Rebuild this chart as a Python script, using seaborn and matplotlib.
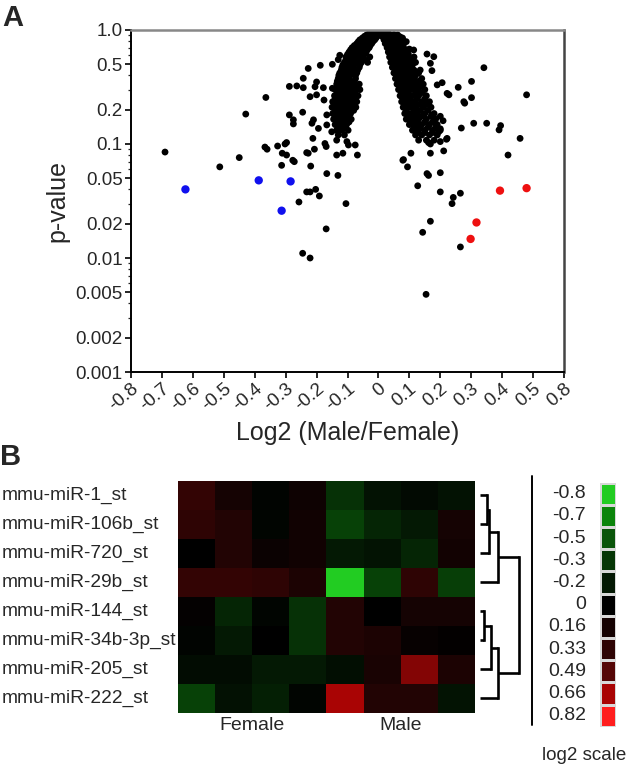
import numpy as np
import pandas as pd
import matplotlib
matplotlib.use("Agg")
import matplotlib.pyplot as plt
import seaborn as sns
from matplotlib.colors import LinearSegmentedColormap
from matplotlib.ticker import FixedLocator, FixedFormatter, LogLocator, NullFormatter
from matplotlib.lines import Line2D

# ===============================
# Panel A: volcano (log2 Male/Female, p-value)
# ===============================
core_left = [
    (-0.015, 0.97), (-0.005, 0.97),
    (-0.022, 0.95), (-0.01, 0.95), (0.0, 0.95),
    (-0.03, 0.93), (-0.018, 0.93), (-0.006, 0.93),
    (-0.038, 0.905), (-0.024, 0.905), (-0.01, 0.905),
    (-0.045, 0.88), (-0.03, 0.88), (-0.015, 0.88), (-0.004, 0.88),
    (-0.052, 0.85), (-0.038, 0.85), (-0.022, 0.85), (-0.008, 0.85),
    (-0.06, 0.82), (-0.045, 0.82), (-0.03, 0.82), (-0.012, 0.82),
    (-0.065, 0.79), (-0.05, 0.79), (-0.035, 0.79), (-0.018, 0.79),
    (-0.07, 0.76), (-0.055, 0.76), (-0.04, 0.76), (-0.022, 0.76),
    (-0.078, 0.73), (-0.062, 0.73), (-0.045, 0.73), (-0.027, 0.73),
    (-0.085, 0.70), (-0.068, 0.70), (-0.05, 0.70), (-0.03, 0.70),
    (-0.09, 0.67), (-0.072, 0.67), (-0.055, 0.67), (-0.036, 0.67),
    (-0.095, 0.64), (-0.078, 0.64), (-0.06, 0.64), (-0.04, 0.64),
    (-0.1, 0.61), (-0.083, 0.61), (-0.065, 0.61), (-0.046, 0.61),
    (-0.125, 0.60), (-0.105, 0.58), (-0.088, 0.58), (-0.07, 0.58), (-0.05, 0.58), (-0.028, 0.58),
    (-0.13, 0.55), (-0.105, 0.55), (-0.085, 0.55), (-0.065, 0.55), (-0.045, 0.55),
    (-0.11, 0.52), (-0.095, 0.52), (-0.075, 0.52), (-0.055, 0.52), (-0.035, 0.52),
    (-0.115, 0.495), (-0.098, 0.495), (-0.08, 0.495), (-0.06, 0.495),
    (-0.118, 0.47), (-0.1, 0.47), (-0.082, 0.47), (-0.062, 0.47),
    (-0.12, 0.445), (-0.103, 0.445), (-0.085, 0.445), (-0.067, 0.445),
    (-0.125, 0.42), (-0.105, 0.42), (-0.088, 0.42), (-0.07, 0.42),
    (-0.128, 0.40), (-0.11, 0.40), (-0.092, 0.40), (-0.074, 0.40),
    (-0.13, 0.375), (-0.112, 0.375), (-0.094, 0.375), (-0.074, 0.375),
    (-0.133, 0.355), (-0.115, 0.355), (-0.097, 0.355), (-0.078, 0.355),
    (-0.135, 0.335), (-0.118, 0.335), (-0.1, 0.335), (-0.08, 0.335), (-0.062, 0.335),
    (-0.13, 0.318), (-0.11, 0.318), (-0.09, 0.318), (-0.07, 0.318),
    (-0.14, 0.30), (-0.12, 0.30), (-0.1, 0.30), (-0.08, 0.30), (-0.06, 0.30),
    (-0.133, 0.282), (-0.115, 0.282), (-0.095, 0.282), (-0.075, 0.282),
    (-0.142, 0.265), (-0.125, 0.265), (-0.105, 0.265), (-0.085, 0.265), (-0.066, 0.265),
    (-0.14, 0.25), (-0.12, 0.25), (-0.1, 0.25), (-0.08, 0.25),
    (-0.148, 0.235), (-0.13, 0.235), (-0.11, 0.235), (-0.09, 0.235), (-0.07, 0.235),
    (-0.14, 0.222), (-0.122, 0.222), (-0.102, 0.222), (-0.082, 0.222),
    (-0.15, 0.21), (-0.13, 0.21), (-0.112, 0.21), (-0.092, 0.21), (-0.073, 0.21),
    (-0.14, 0.197), (-0.12, 0.197), (-0.1, 0.197), (-0.08, 0.197),
    (-0.148, 0.185), (-0.13, 0.185), (-0.11, 0.185), (-0.09, 0.185),
    (-0.137, 0.175), (-0.118, 0.175), (-0.098, 0.175),
    (-0.145, 0.165), (-0.128, 0.165), (-0.108, 0.165), (-0.088, 0.165),
    (-0.132, 0.156), (-0.113, 0.156), (-0.095, 0.156),
    (-0.14, 0.148), (-0.122, 0.148), (-0.103, 0.148),
    (-0.13, 0.14), (-0.112, 0.14),
    (-0.135, 0.132), (-0.118, 0.132), (-0.098, 0.132),
    (-0.13, 0.12), (-0.11, 0.12),
]
core_right = [
    (0.005, 0.97), (0.015, 0.97),
    (0.0, 0.95), (0.01, 0.95), (0.022, 0.95),
    (0.008, 0.93), (0.02, 0.93), (0.032, 0.93), (0.05, 0.91),
    (0.014, 0.905), (0.026, 0.905), (0.04, 0.905), (0.062, 0.905),
    (0.012, 0.88), (0.026, 0.88), (0.04, 0.88), (0.055, 0.88), (0.07, 0.87),
    (0.018, 0.85), (0.033, 0.85), (0.048, 0.85), (0.063, 0.85), (0.078, 0.85),
    (0.018, 0.82), (0.032, 0.82), (0.048, 0.82), (0.063, 0.82), (0.08, 0.80),
    (0.025, 0.79), (0.04, 0.79), (0.056, 0.79), (0.072, 0.79), (0.09, 0.79),
    (0.022, 0.76), (0.038, 0.76), (0.055, 0.76), (0.072, 0.76),
    (0.03, 0.73), (0.046, 0.73), (0.063, 0.73), (0.08, 0.73),
    (0.028, 0.70), (0.045, 0.70), (0.062, 0.70), (0.08, 0.70), (0.1, 0.68),
    (0.035, 0.67), (0.053, 0.67), (0.07, 0.67), (0.09, 0.67),
    (0.032, 0.64), (0.05, 0.64), (0.068, 0.64), (0.088, 0.64),
    (0.04, 0.61), (0.058, 0.61), (0.077, 0.61), (0.097, 0.61),
    (0.036, 0.58), (0.055, 0.58), (0.075, 0.58), (0.095, 0.58), (0.115, 0.58),
    (0.045, 0.55), (0.065, 0.55), (0.085, 0.55), (0.105, 0.55),
    (0.04, 0.52), (0.06, 0.52), (0.08, 0.52), (0.1, 0.52), (0.12, 0.52),
    (0.05, 0.495), (0.07, 0.495), (0.09, 0.495), (0.11, 0.495),
    (0.045, 0.47), (0.065, 0.47), (0.085, 0.47), (0.105, 0.47),
    (0.055, 0.445), (0.075, 0.445), (0.095, 0.445), (0.115, 0.445), (0.135, 0.445),
    (0.05, 0.42), (0.07, 0.42), (0.09, 0.42), (0.11, 0.42), (0.13, 0.42),
    (0.06, 0.40), (0.08, 0.40), (0.1, 0.40), (0.12, 0.40),
    (0.055, 0.375), (0.075, 0.375), (0.095, 0.375), (0.115, 0.375), (0.14, 0.375),
    (0.065, 0.355), (0.085, 0.355), (0.105, 0.355), (0.13, 0.355),
    (0.06, 0.335), (0.08, 0.335), (0.1, 0.335), (0.12, 0.335), (0.145, 0.335),
    (0.07, 0.318), (0.09, 0.318), (0.11, 0.318), (0.135, 0.318),
    (0.065, 0.30), (0.085, 0.30), (0.105, 0.30), (0.125, 0.30), (0.15, 0.30),
    (0.075, 0.282), (0.095, 0.282), (0.12, 0.282), (0.14, 0.282),
    (0.07, 0.265), (0.09, 0.265), (0.11, 0.265), (0.13, 0.265), (0.155, 0.265),
    (0.08, 0.25), (0.1, 0.25), (0.125, 0.25), (0.15, 0.25),
    (0.075, 0.235), (0.095, 0.235), (0.115, 0.235), (0.14, 0.235), (0.165, 0.235),
    (0.085, 0.222), (0.11, 0.222), (0.13, 0.222), (0.155, 0.222),
    (0.08, 0.21), (0.1, 0.21), (0.12, 0.21), (0.145, 0.21), (0.17, 0.21),
    (0.09, 0.197), (0.115, 0.197), (0.135, 0.197), (0.16, 0.197),
    (0.085, 0.185), (0.105, 0.185), (0.125, 0.185), (0.15, 0.185), (0.18, 0.185),
    (0.1, 0.175), (0.12, 0.175), (0.14, 0.175), (0.17, 0.175),
    (0.09, 0.165), (0.11, 0.165), (0.13, 0.165), (0.155, 0.165), (0.185, 0.165),
    (0.105, 0.156), (0.125, 0.156), (0.15, 0.156), (0.175, 0.156),
    (0.1, 0.148), (0.12, 0.148), (0.14, 0.148), (0.165, 0.148), (0.19, 0.148),
    (0.115, 0.14), (0.135, 0.14), (0.16, 0.14), (0.185, 0.14),
    (0.11, 0.132), (0.13, 0.132), (0.15, 0.132), (0.175, 0.132), (0.2, 0.132),
    (0.125, 0.126), (0.15, 0.126), (0.175, 0.126),
    (0.12, 0.12), (0.14, 0.12), (0.165, 0.12), (0.19, 0.12),
    (0.13, 0.108), (0.155, 0.108), (0.18, 0.108),
]
scatter_left = [
    (-0.69, 0.085), (-0.513, 0.063), (-0.45, 0.076), (-0.429, 0.183), (-0.364, 0.256),
    (-0.367, 0.094), (-0.36, 0.09), (-0.326, 0.096), (-0.302, 0.100), (-0.297, 0.103),
    (-0.311, 0.083), (-0.297, 0.080), (-0.277, 0.072), (-0.272, 0.070), (-0.313, 0.065),
    (-0.232, 0.084), (-0.288, 0.32), (-0.264, 0.323), (-0.243, 0.312), (-0.243, 0.377),
    (-0.227, 0.46), (-0.2, 0.35), (-0.221, 0.26), (-0.2, 0.27), (-0.288, 0.18),
    (-0.275, 0.163), (-0.275, 0.15), (-0.245, 0.19), (-0.21, 0.163), (-0.215, 0.152),
    (-0.194, 0.137), (-0.212, 0.112), (-0.227, 0.083), (-0.207, 0.09), (-0.219, 0.064),
    (-0.188, 0.49), (-0.257, 0.031), (-0.232, 0.038), (-0.221, 0.038), (-0.203, 0.040),
    (-0.191, 0.035), (-0.245, 0.011), (-0.221, 0.010), (-0.149, 0.50), (-0.205, 0.318),
    (-0.178, 0.312), (-0.176, 0.243), (-0.149, 0.308), (-0.167, 0.18), (-0.167, 0.147),
    (-0.151, 0.128), (-0.075, 0.098), (-0.102, 0.105), (-0.097, 0.098), (-0.135, 0.108),
    (-0.173, 0.101), (-0.169, 0.095), (-0.135, 0.08), (-0.115, 0.083), (-0.068, 0.08),
    (-0.167, 0.055), (-0.131, 0.053), (-0.105, 0.030), (-0.169, 0.018), (-0.091, 0.483),
]
scatter_right = [
    (0.341, 0.467), (0.479, 0.27), (0.301, 0.354), (0.301, 0.255), (0.276, 0.235),
    (0.279, 0.228), (0.258, 0.314), (0.308, 0.152), (0.35, 0.152), (0.395, 0.145),
    (0.39, 0.133), (0.458, 0.112), (0.419, 0.080), (0.222, 0.278), (0.228, 0.27),
    (0.206, 0.345), (0.19, 0.33), (0.179, 0.583), (0.168, 0.51), (0.173, 0.44),
    (0.157, 0.615), (0.114, 0.668), (0.2, 0.175), (0.209, 0.16), (0.188, 0.14),
    (0.195, 0.128), (0.222, 0.112), (0.162, 0.103), (0.168, 0.100), (0.2, 0.105),
    (0.22, 0.11), (0.105, 0.083), (0.094, 0.063), (0.168, 0.083), (0.211, 0.087),
    (0.157, 0.055), (0.162, 0.053), (0.2, 0.056), (0.127, 0.043), (0.081, 0.073),
    (0.152, 0.235), (0.173, 0.18), (0.2, 0.038), (0.242, 0.034), (0.238, 0.030),
    (0.265, 0.037), (0.265, 0.0125), (0.168, 0.021), (0.143, 0.0168), (0.154, 0.0048),
    (0.268, 0.138), (0.2, 0.136), (0.079, 0.072),
]
down_in_male = [(-0.624, 0.040), (-0.387, 0.048), (-0.284, 0.047), (-0.313, 0.026)]
up_in_male = [(0.393, 0.039), (0.479, 0.041), (0.317, 0.0205), (0.298, 0.0147)]

x_ticks = [-0.8, -0.7, -0.6, -0.5, -0.4, -0.3, -0.2, -0.1, 0.0, 0.1, 0.2, 0.3, 0.4, 0.5, 0.6]
x_tick_labels = ["-0.8", "-0.7", "-0.6", "-0.5", "-0.4", "-0.3", "-0.2", "-0.1",
                 "0", "0.1", "0.2", "0.3", "0.4", "0.5", "0.8"]
y_ticks = [1.0, 0.5, 0.2, 0.1, 0.05, 0.02, 0.01, 0.005, 0.002, 0.001]
y_tick_labels = ["1.0", "0.5", "0.2", "0.1", "0.05", "0.02", "0.01", "0.005", "0.002", "0.001"]

# ===============================
# Panel B: heatmap + dendrograma
# ===============================
mirnas = ["mmu-miR-1_st", "mmu-miR-106b_st", "mmu-miR-720_st", "mmu-miR-29b_st",
          "mmu-miR-144_st", "mmu-miR-34b-3p_st", "mmu-miR-205_st", "mmu-miR-222_st"]
grupos = ["Female", "Male"]
expr = [
    [0.35, 0.15, -0.03, 0.10, -0.28, -0.15, -0.08, -0.15],
    [0.33, 0.25, -0.04, 0.12, -0.36, -0.24, -0.2, 0.15],
    [0.0, 0.25, 0.08, 0.12, -0.2, -0.16, -0.24, 0.13],
    [0.35, 0.35, 0.33, 0.2, -0.8, -0.36, 0.33, -0.34],
    [0.03, -0.24, -0.04, -0.28, 0.25, 0.0, 0.15, 0.15],
    [-0.03, -0.2, 0.0, -0.28, 0.25, 0.2, 0.05, 0.02],
    [-0.1, -0.1, -0.2, -0.2, -0.12, 0.18, 0.58, 0.2],
    [-0.36, -0.14, -0.22, -0.04, 0.66, 0.25, 0.25, -0.16],
]
scale_values = [-0.8, -0.7, -0.5, -0.3, -0.2, 0.0, 0.16, 0.33, 0.49, 0.66, 0.82]
scale_labels = ["-0.8", "-0.7", "-0.5", "-0.3", "-0.2", "0", "0.16", "0.33", "0.49", "0.66", "0.82"]
scale_colors = ["#22cc22", "#0a800a", "#0a550a", "#063806", "#041804", "#000000",
                "#160303", "#2e0404", "#550606", "#a80404", "#ff1e1e"]
# fusiones del dendrograma: (nodo a, nodo b, altura)
merges = [(0, 1, 0.7), (8, 2, 0.9), (9, 3, 1.8), (4, 5, 0.4), (11, 6, 1.1), (12, 7, 1.8), (10, 13, 3.9)]

# ===============================
# Estilo
# ===============================
sns.set_style("ticks")
plt.rcParams["font.family"] = ["Liberation Sans", "DejaVu Sans"]

fig = plt.figure(figsize=(6.28, 7.65), dpi=100)

# ---- A ----
filas = []
for grupo, pts in [("ns", core_left + core_right + scatter_left + scatter_right),
                   ("down", down_in_male), ("up", up_in_male)]:
    for x, p in pts:
        filas.append((x, p, grupo))
df = pd.DataFrame(filas, columns=["log2", "p", "grupo"])

ax = fig.add_axes([0.2086, 0.5137, 0.6895, 0.4471])
sns.scatterplot(data=df, x="log2", y="p", hue="grupo", size="grupo",
                palette={"ns": "black", "down": "#1010ee", "up": "#ee1010"},
                sizes={"ns": 24, "down": 36, "up": 36},
                linewidth=0, legend=False, ax=ax)
ax.set_yscale("log")
ax.set_xlim(-0.8, 0.6)
ax.set_ylim(0.001, 1.0)
ax.xaxis.set_major_locator(FixedLocator(x_ticks))
ax.xaxis.set_major_formatter(FixedFormatter(x_tick_labels))
ax.yaxis.set_major_locator(FixedLocator(y_ticks))
ax.yaxis.set_major_formatter(FixedFormatter(y_tick_labels))
ax.yaxis.set_minor_locator(LogLocator(base=10, subs=np.arange(2, 10)))
ax.yaxis.set_minor_formatter(NullFormatter())
ax.tick_params(axis="both", which="major", length=4, width=1.2, labelsize=13.5, pad=2, color="black")
ax.tick_params(axis="y", which="minor", length=2.5, width=0.9)
for lab in ax.get_xticklabels():
    lab.set_rotation(40)
    lab.set_ha("right")
    lab.set_rotation_mode("anchor")
    lab.set_fontsize(13.5)
ax.set_xlabel("Log2 (Male/Female)", fontsize=18, labelpad=5)
ax.set_ylabel("p-value", fontsize=18, labelpad=4)
for lado in ["left", "bottom"]:
    ax.spines[lado].set_color("black")
    ax.spines[lado].set_linewidth(1.4)
ax.spines["top"].set_color("#888888")
ax.spines["top"].set_linewidth(1.8)
ax.spines["right"].set_color("#444444")
ax.spines["right"].set_linewidth(1.8)

fig.text(0.004, 0.977, "A", fontsize=21, fontweight="bold", ha="left", va="center")
fig.text(0.0, 0.402, "B", fontsize=21, fontweight="bold", ha="left", va="center")

# ---- B ----
pos = [(v - scale_values[0]) / (scale_values[-1] - scale_values[0]) for v in scale_values]
cmap = LinearSegmentedColormap.from_list("verde_rojo", list(zip(pos, scale_colors)))

axh = fig.add_axes([0.2834, 0.068, 0.4729, 0.3033])
sns.heatmap(pd.DataFrame(expr, index=mirnas), cmap=cmap, vmin=-0.8, vmax=0.82,
            cbar=False, xticklabels=False, yticklabels=True, ax=axh)
axh.set_xticks([2, 6])
axh.set_xticklabels(grupos, rotation=0, fontsize=14)
axh.tick_params(axis="both", length=0)
axh.tick_params(axis="x", pad=3)
axh.tick_params(axis="y", pad=127)
for lab in axh.get_yticklabels():
    lab.set_rotation(0)
    lab.set_ha("left")
    lab.set_fontsize(13.8)
axh.set_xlabel("")
axh.set_ylabel("")

# dendrograma
axd = fig.add_axes([0.7643, 0.068, 0.0669, 0.3033])
pos_y = {i: i + 0.5 for i in range(len(mirnas))}
alt = {i: 0.0 for i in range(len(mirnas))}
for k, (a, b, h) in enumerate(merges):
    nodo = len(mirnas) + k
    for hijo in (a, b):
        axd.plot([alt[hijo], h], [pos_y[hijo], pos_y[hijo]], color="black", lw=1.9, solid_capstyle="butt")
    axd.plot([h, h], [pos_y[a], pos_y[b]], color="black", lw=1.9, solid_capstyle="projecting")
    pos_y[nodo] = (pos_y[a] + pos_y[b]) / 2
    alt[nodo] = h
axd.set_xlim(0, 4.2)
axd.set_ylim(len(mirnas), 0)
axd.axis("off")

fig.add_artist(Line2D([0.847, 0.847], [0.052, 0.378], transform=fig.transFigure, color="black", lw=1.4))

# escala de color
axl = fig.add_axes([0.9554, 0.05, 0.0255, 0.319])
sns.heatmap(np.array(scale_values).reshape(-1, 1), cmap=cmap, vmin=-0.8, vmax=0.82,
            cbar=False, xticklabels=False, yticklabels=scale_labels,
            linewidths=0.8, linecolor="#d8d8d8", ax=axl)
axl.tick_params(axis="both", length=0, pad=10)
for lab in axl.get_yticklabels():
    lab.set_rotation(0)
    lab.set_fontsize(14)
fig.text(0.93, 0.013, "log2 scale", fontsize=13.5, ha="center", va="center")

fig.savefig("out.png", dpi=100)
